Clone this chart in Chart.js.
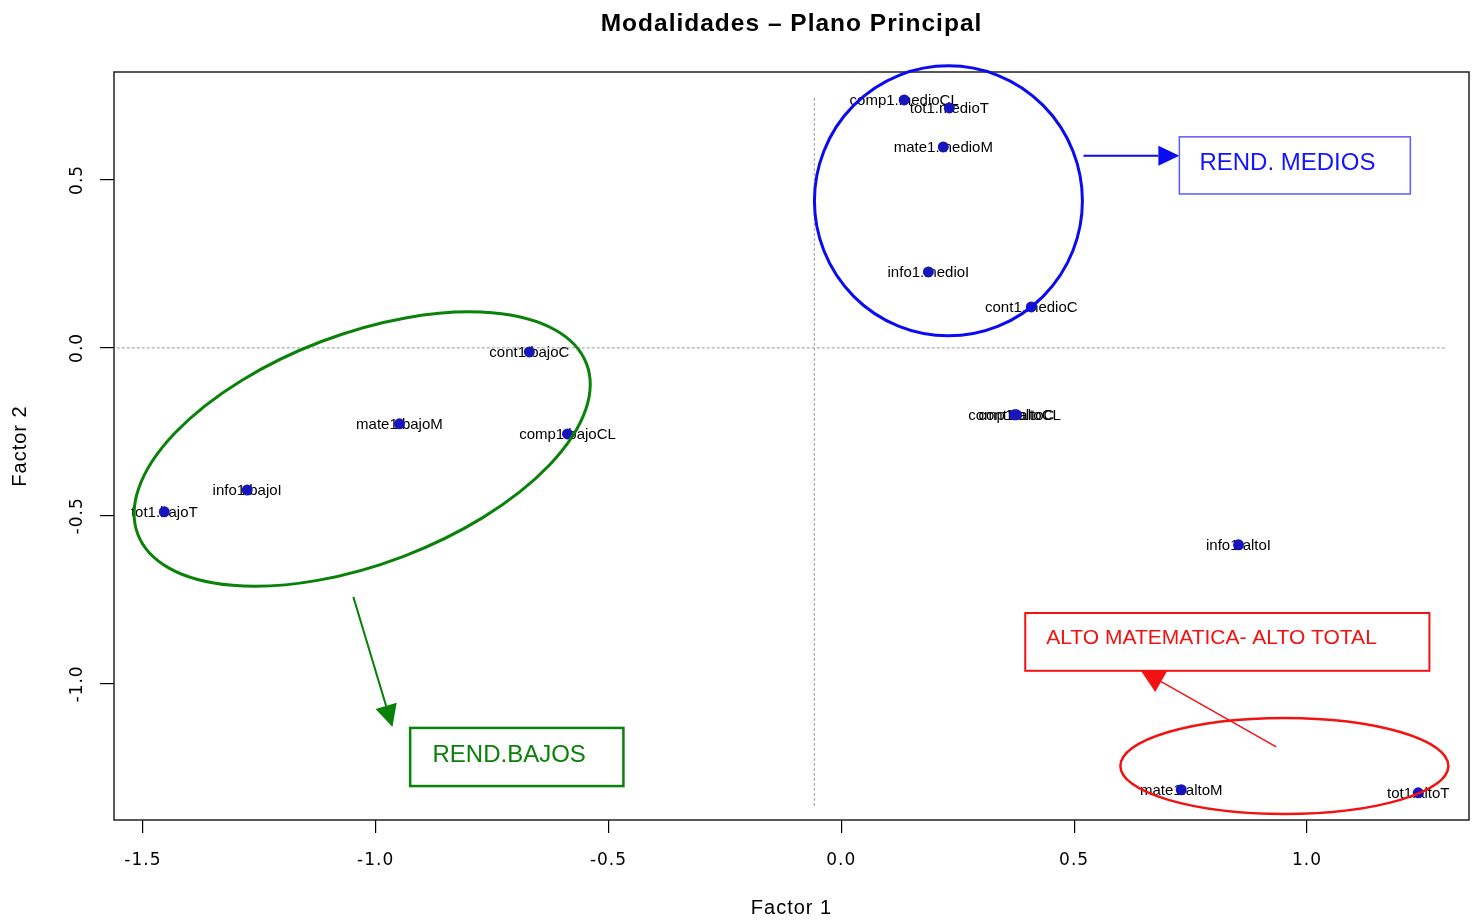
<!DOCTYPE html>
<html>
<head>
<meta charset="utf-8">
<title>Modalidades – Plano Principal</title>
<script src="https://cdn.jsdelivr.net/npm/chart.js@4"></script>
<style>
  html, body { margin: 0; padding: 0; background: #fff; }
</style>
</head>
<body>
<canvas id="myChart" width="1477" height="920"></canvas>
<script>
// modalidades y coordenadas en el plano principal
const names = [
  "comp1.medioCL", "tot1.medioT", "mate1.medioM", "info1.medioI", "cont1.medioC",
  "cont1.bajoC", "mate1.bajoM", "comp1.bajoCL", "info1.bajoI", "tot1.bajoT",
  "comp1.altoCL", "cont1.altoC", "info1.altoI", "mate1.altoM", "tot1.altoT"
];
const factor1 = [
  0.135, 0.232, 0.219, 0.187, 0.408,
  -0.670, -0.949, -0.588, -1.276, -1.454,
  0.372, 0.376, 0.853, 0.730, 1.239
];
const factor2 = [
  0.738, 0.714, 0.598, 0.226, 0.122,
  -0.012, -0.226, -0.256, -0.423, -0.488,
  -0.199, -0.199, -0.586, -1.315, -1.324
];
const xTicks = [-1.5, -1.0, -0.5, 0.0, 0.5, 1.0];
const yTicks = [-1.0, -0.5, 0.0, 0.5];

// anotaciones (en unidades de los ejes)
const rings = [
  { color: "#0b0bf0", width: 3, cx: 0.230, cy: 0.4375, rx: 134, ry: 135, angle: 0 },
  { color: "#0a820a", width: 3, cx: -1.029, cy: -0.301, rx: 240, ry: 115, angle: -20.8 },
  { color: "#f21212", width: 2.5, cx: 0.9515, cy: -1.244, rx: 164, ry: 48, angle: 0 }
];
const arrows = [
  { color: "#0b0bf0", width: 2, from: [0.520, 0.5714], to: [0.726, 0.5714], len: 21, half: 10 },
  { color: "#0a820a", width: 2, from: [-1.048, -0.741], to: [-0.964, -1.128], len: 22, half: 11 },
  { color: "#f21212", width: 1.5, from: [0.934, -1.1875], to: [0.642, -0.958], len: 24, half: 12 }
];
const boxes = [
  { text: "REND. MEDIOS", color: "#1414ff", border: "#5a5aff", width: 1.5,
    x0: 0.726, x1: 1.222, y0: 0.628, y1: 0.458, tx: 0.769, ty: 0.550, size: 24 },
  { text: "REND.BAJOS", color: "#0a820a", border: "#0a820a", width: 2.5,
    x0: -0.926, x1: -0.468, y0: -1.131, y1: -1.304, tx: -0.878, ty: -1.214, size: 24 },
  { text: "ALTO MATEMATICA- ALTO TOTAL", color: "#f21212", border: "#f21212", width: 2,
    x0: 0.395, x1: 1.263, y0: -0.789, y1: -0.961, tx: 0.440, ty: -0.863, size: 21 }
];

const SANS = '"Liberation Sans", Arial, Helvetica, sans-serif';
const TICKS = '"DejaVu Sans", "Liberation Sans", sans-serif';

const rPlot = {
  id: "rPlot",
  beforeUpdate(chart) { chart.ctx.letterSpacing = "1px"; },
  beforeDraw(chart) { chart.ctx.letterSpacing = "1px"; },
  beforeDatasetsDraw(chart) {
    const { ctx, scales: { x, y } } = chart;
    ctx.save();
    // lineas de referencia punteadas
    ctx.strokeStyle = "#9a9a9a";
    ctx.lineWidth = 1;
    ctx.setLineDash([3, 2]);
    ctx.beginPath();
    ctx.moveTo(x.getPixelForValue(-1.556), y.getPixelForValue(0));
    ctx.lineTo(x.getPixelForValue(1.30), y.getPixelForValue(0));
    ctx.moveTo(x.getPixelForValue(-0.058), y.getPixelForValue(0.744));
    ctx.lineTo(x.getPixelForValue(-0.058), y.getPixelForValue(-1.369));
    ctx.stroke();
    ctx.setLineDash([]);
    // etiquetas de las modalidades
    ctx.font = "15px " + SANS;
    ctx.letterSpacing = "0px";
    ctx.fillStyle = "#000";
    ctx.textAlign = "center";
    ctx.textBaseline = "middle";
    names.forEach((n, i) => {
      ctx.fillText(n, x.getPixelForValue(factor1[i]), y.getPixelForValue(factor2[i]) + 1);
    });
    ctx.restore();
  },
  afterDatasetsDraw(chart) {
    const { ctx, chartArea: a, scales: { x, y } } = chart;
    ctx.save();
    ctx.letterSpacing = "0px";
    // marco
    ctx.strokeStyle = "#222";
    ctx.lineWidth = 1.5;
    ctx.strokeRect(a.left, a.top, a.width, a.height);

    rings.forEach(r => {
      ctx.strokeStyle = r.color;
      ctx.lineWidth = r.width;
      ctx.beginPath();
      ctx.ellipse(x.getPixelForValue(r.cx), y.getPixelForValue(r.cy), r.rx, r.ry,
        r.angle * Math.PI / 180, 0, Math.PI * 2);
      ctx.stroke();
    });

    arrows.forEach(ar => {
      const x1 = x.getPixelForValue(ar.from[0]), y1 = y.getPixelForValue(ar.from[1]);
      const x2 = x.getPixelForValue(ar.to[0]), y2 = y.getPixelForValue(ar.to[1]);
      const ang = Math.atan2(y2 - y1, x2 - x1);
      const bx = x2 - ar.len * Math.cos(ang), by = y2 - ar.len * Math.sin(ang);
      ctx.strokeStyle = ar.color;
      ctx.fillStyle = ar.color;
      ctx.lineWidth = ar.width;
      ctx.beginPath();
      ctx.moveTo(x1, y1);
      ctx.lineTo(bx, by);
      ctx.stroke();
      ctx.beginPath();
      ctx.moveTo(x2, y2);
      ctx.lineTo(bx + ar.half * Math.sin(ang), by - ar.half * Math.cos(ang));
      ctx.lineTo(bx - ar.half * Math.sin(ang), by + ar.half * Math.cos(ang));
      ctx.closePath();
      ctx.fill();
    });

    boxes.forEach(b => {
      const l = x.getPixelForValue(b.x0), r = x.getPixelForValue(b.x1);
      const t = y.getPixelForValue(b.y0), btm = y.getPixelForValue(b.y1);
      ctx.fillStyle = "#fff";
      ctx.fillRect(l, t, r - l, btm - t);
      ctx.strokeStyle = b.border;
      ctx.lineWidth = b.width;
      ctx.strokeRect(l, t, r - l, btm - t);
      ctx.fillStyle = b.color;
      ctx.font = b.size + "px " + SANS;
      ctx.textAlign = "left";
      ctx.textBaseline = "middle";
      ctx.fillText(b.text, x.getPixelForValue(b.tx), y.getPixelForValue(b.ty));
    });
    ctx.restore();
  },
  afterDraw(chart) { chart.ctx.letterSpacing = "0px"; }
};

const config = {
  type: "scatter",
  data: {
    datasets: [{
      data: factor1.map((v, i) => ({ x: v, y: factor2[i] })),
      pointRadius: 5.5,
      pointHoverRadius: 5.5,
      pointBorderWidth: 0,
      pointBackgroundColor: "#1616bc"
    }]
  },
  options: {
    responsive: false,
    animation: false,
    layout: { padding: { right: 8 } },
    plugins: {
      legend: { display: false },
      tooltip: { enabled: false },
      title: {
        display: true,
        text: "Modalidades – Plano Principal",
        fullSize: false,
        color: "#000",
        font: { size: 24.5, weight: "bold", family: SANS },
        padding: { top: 10, bottom: 32.6 }
      }
    },
    scales: {
      x: {
        type: "linear",
        min: -1.562,
        max: 1.348,
        afterBuildTicks: s => { s.ticks = xTicks.map(v => ({ value: v })); },
        afterFit: s => { s.height = 100; },
        border: { display: false },
        grid: { drawOnChartArea: false, drawTicks: true, tickLength: 13, color: "#000", lineWidth: 1.2 },
        ticks: {
          callback: v => v.toFixed(1),
          color: "#000",
          font: { size: 17, family: TICKS },
          padding: 17,
          maxRotation: 0
        },
        title: {
          display: true,
          text: "Factor 1",
          color: "#000",
          font: { size: 20, family: SANS },
          padding: { top: 0, bottom: 0 }
        }
      },
      y: {
        type: "linear",
        min: -1.405,
        max: 0.821,
        afterBuildTicks: s => { s.ticks = yTicks.map(v => ({ value: v })); },
        afterFit: s => { s.width = 114; },
        border: { display: false },
        grid: { drawOnChartArea: false, drawTicks: true, tickLength: 14, color: "#000", lineWidth: 1.2 },
        ticks: {
          callback: v => v.toFixed(1),
          color: "#000",
          font: { size: 17, family: TICKS },
          minRotation: 90,
          maxRotation: 90,
          crossAlign: "center",
          padding: 4
        },
        title: {
          display: true,
          text: "Factor 2",
          color: "#000",
          font: { size: 20, family: SANS },
          padding: { top: 8, bottom: 0 }
        }
      }
    }
  },
  plugins: [rPlot]
};

const myChart = new Chart(document.getElementById("myChart"), config);
</script>
</body>
</html>
